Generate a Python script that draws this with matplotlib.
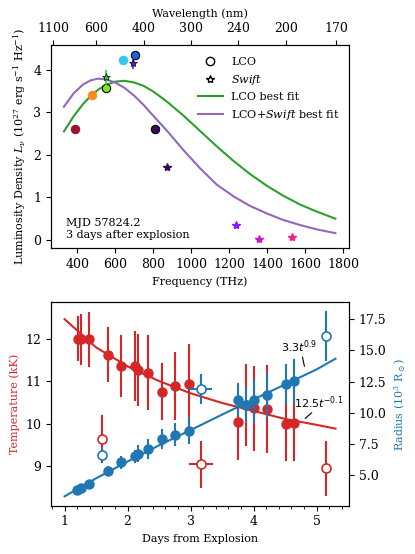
# SN photometry: SED at day 3 (arriba) y evolucion de T / R (abajo)
import numpy as np
import matplotlib
matplotlib.use('Agg')
import matplotlib.pyplot as plt
from matplotlib.lines import Line2D

plt.rcParams['font.family'] = 'DejaVu Serif'
plt.rcParams['mathtext.fontset'] = 'custom'
plt.rcParams['mathtext.rm'] = 'DejaVu Serif'
plt.rcParams['mathtext.it'] = 'DejaVu Serif:italic'
plt.rcParams['mathtext.sf'] = 'DejaVu Sans:italic'
plt.rcParams['mathtext.bf'] = 'DejaVu Sans'
plt.rcParams['mathtext.fallback'] = 'stix'
plt.rcParams['font.size'] = 8
plt.rcParams['xtick.labelsize'] = 9
plt.rcParams['ytick.labelsize'] = 9

# ---- panel superior: SED ----
lco_freq = [388, 477, 553, 640, 705, 810]
lco_lum = [2.60, 3.41, 3.58, 4.24, 4.34, 2.61]
lco_col = ['#9b1233', '#ff8a1c', '#7fe619', '#33c8f2', '#1a66e0', '#3b0a5c']
lco_edge = [False, False, True, False, True, True]

swift_freq = [549, 693, 872, 1237, 1360, 1532]
swift_lum = [3.82, 4.15, 1.71, 0.34, 0.03, 0.08]
swift_err = [0.17, 0.13, 0.0, 0.0, 0.0, 0.0]
swift_col = ['#33cc33', '#5a1ae6', '#2e0a50', '#8c1aff', '#cc14cc', '#ff1a8c']

fit_freq = [330, 380, 430, 470, 510, 555, 600, 650, 700, 750, 800, 870, 960,
            1050, 1135, 1225, 1310, 1400, 1485, 1575, 1660, 1760]
fit_lco = [2.55, 2.90, 3.19, 3.38, 3.53, 3.65, 3.72, 3.74, 3.70, 3.62, 3.49,
           3.26, 2.92, 2.55, 2.20, 1.85, 1.55, 1.27, 1.04, 0.83, 0.67, 0.50]
fit_all = [3.13, 3.44, 3.65, 3.75, 3.79, 3.77, 3.70, 3.57, 3.39, 3.17, 2.92,
           2.58, 2.11, 1.67, 1.30, 1.02, 0.80, 0.62, 0.47, 0.35, 0.25, 0.16]

wl_ticks = [1100, 600, 400, 300, 240, 200, 170]

# ---- panel inferior: temperatura y radio ----
t_temp = [1.22, 1.26, 1.385, 1.685, 1.90, 2.117, 2.16, 2.32, 2.543, 2.754, 2.975,
          3.749, 3.88, 4.0, 4.22, 4.518, 4.645]
temp = [12.02, 12.0, 12.0, 11.64, 11.37, 11.37, 11.27, 11.21, 10.76, 10.89, 10.94,
        10.04, 10.44, 10.36, 10.34, 9.98, 10.02]
temp_err = [0.53, 0.60, 0.66, 0.66, 0.74, 0.84, 0.86, 0.89, 0.68, 0.81, 0.94,
            0.91, 0.97, 1.0, 1.05, 0.86, 0.91]

t_temp_open = [1.59, 3.17, 5.145]
temp_open = [9.63, 9.03, 8.94]
temp_open_err = [0.57, 0.56, 0.65]
temp_open_xerr = [0.0, 0.19, 0.0]

t_rad = [1.20, 1.253, 1.385, 1.685, 1.90, 2.117, 2.16, 2.327, 2.543, 2.754, 2.975,
         3.749, 3.88, 4.0, 4.22, 4.518, 4.645]
rad = [3.85, 3.95, 4.33, 5.31, 6.03, 6.51, 6.73, 7.11, 7.91, 8.25, 8.57,
       11.06, 10.66, 11.0, 11.40, 12.34, 12.52]
rad_err = [0.0, 0.0, 0.0, 0.4, 0.5, 0.55, 0.7, 0.8, 0.78, 0.93, 1.1,
           1.3, 1.45, 1.7, 1.8, 1.6, 1.8]

t_rad_open = [1.59, 3.16, 5.145]
rad_open = [6.65, 11.91, 16.13]
rad_open_err = [0.58, 1.2, 2.0]
rad_open_xerr = [0.0, 0.18, 0.0]

fit_t = [1.0, 1.5, 2.0, 2.5, 3.0, 3.5, 4.0, 4.5, 5.0, 5.3]
fit_temp = [12.48, 11.81, 11.36, 11.01, 10.72, 10.49, 10.30, 10.11, 9.97, 9.88]
fit_rad = [3.31, 4.75, 6.10, 7.40, 8.62, 9.86, 11.08, 12.28, 13.48, 14.34]

RED = '#d62728'
BLUE = '#1f77b4'

fig = plt.figure(figsize=(4.15, 5.54), dpi=100)
ax = fig.add_axes([0.123, 0.5523, 0.718, 0.3664])
ax.plot(fit_freq, fit_lco, color='#2ca02c', lw=1.5, zorder=2)
ax.plot(fit_freq, fit_all, color='#9467bd', lw=1.5, zorder=2)

for f, l, c, e in zip(lco_freq, lco_lum, lco_col, lco_edge):
    ax.plot(f, l, 'o', ms=6, mfc=c, mec='k' if e else c, mew=0.8, zorder=4)
for f, l, er, c in zip(swift_freq, swift_lum, swift_err, swift_col):
    if er > 0:
        ax.errorbar(f, l, yerr=er, fmt='*', ms=6, mfc=c, mec='k', mew=0.5,
                    ecolor=c, elinewidth=1.2, capsize=0, zorder=5)
    else:
        ax.plot(f, l, '*', ms=6, mfc=c, mec=c, zorder=5)

ax.set_xlim(262, 1832)
ax.set_ylim(-0.19, 4.58)
ax.set_xticks([400, 600, 800, 1000, 1200, 1400, 1600, 1800])
ax.set_yticks([0, 1, 2, 3, 4])
ax.set_xlabel('Frequency (THz)')
ax.set_ylabel(r'Luminosity Density $L_\nu$ ($10^{27}$ erg s$^{-1}$ Hz$^{-1}$)')
ax.text(0.05, 0.04, 'MJD 57824.2\n3 days after explosion', transform=ax.transAxes,
        ha='left', va='bottom', fontsize=8)

handles = [Line2D([], [], marker='o', ls='', mfc='none', mec='k', ms=6),
           Line2D([], [], marker='*', ls='', mfc='none', mec='k', ms=6),
           Line2D([], [], color='#2ca02c', lw=1.5),
           Line2D([], [], color='#9467bd', lw=1.5)]
labels = ['LCO', r'$\it{Swift}$', 'LCO best fit', r'LCO+$\it{Swift}$ best fit']
ax.legend(handles, labels, loc='upper right', bbox_to_anchor=(1.0, 0.985),
          frameon=False, fontsize=8, handlelength=2.2, borderaxespad=0.4)

# eje de longitud de onda arriba
axt = ax.twiny()
axt.set_xlim(ax.get_xlim())
axt.set_xticks([299792.458 / w for w in wl_ticks])
axt.set_xticklabels([str(w) for w in wl_ticks])
axt.set_xlabel('Wavelength (nm)')

# ---- panel inferior ----
ax2 = fig.add_axes([0.123, 0.0872, 0.718, 0.3671])
ax3 = ax2.twinx()

ax2.plot(fit_t, fit_temp, color=RED, lw=1.5, zorder=2)
ax2.errorbar(t_temp, temp, yerr=temp_err, fmt='o', color=RED, ms=6.5,
             elinewidth=1.5, capsize=0, zorder=3)
ax2.errorbar(t_temp_open, temp_open, yerr=temp_open_err, xerr=temp_open_xerr,
             fmt='o', color=RED, mfc='white', mew=1.2, ms=6.5, elinewidth=1.5,
             capsize=0, zorder=3)

ax3.plot(fit_t, fit_rad, color=BLUE, lw=1.5, zorder=2)
ax3.errorbar(t_rad, rad, yerr=rad_err, fmt='o', color=BLUE, ms=6.5,
             elinewidth=1.5, capsize=0, zorder=3)
ax3.errorbar(t_rad_open, rad_open, yerr=rad_open_err, xerr=rad_open_xerr,
             fmt='o', color=BLUE, mfc='white', mew=1.2, ms=6.5, elinewidth=1.5,
             capsize=0, zorder=3)

# etiquetas de los ajustes
ax3.text(4.713, 15.33, r'3.3$\mathsf{t}^{\mathbf{0.9}}$', family='DejaVu Sans',
         ha='center', va='center', fontsize=8)
ax3.annotate('', xy=(4.807, 13.73), xytext=(4.776, 14.48),
             arrowprops=dict(arrowstyle='-', color='k', lw=0.8, shrinkA=0, shrinkB=0))
ax2.text(5.03, 10.49, r'12.5$\mathsf{t}^{\mathbf{-0.1}}$', family='DejaVu Sans',
         ha='center', va='center', fontsize=8)
ax2.annotate('', xy=(4.924, 10.26), xytext=(4.818, 10.12),
             arrowprops=dict(arrowstyle='-', color='k', lw=0.8, shrinkA=0, shrinkB=0))

ax2.set_xlim(0.785, 5.515)
ax2.set_ylim(8.05, 12.88)
ax3.set_ylim(2.56, 18.86)
ax2.set_xticks([1, 2, 3, 4, 5])
ax2.set_xticks(np.arange(0.8, 5.6, 0.2), minor=True)
ax2.set_yticks([9, 10, 11, 12])
ax3.set_yticks([5.0, 7.5, 10.0, 12.5, 15.0, 17.5])
ax2.set_xlabel('Days from Explosion')
ax2.set_ylabel('Temperature (kK)', color=RED)
ax3.set_ylabel(r'Radius ($10^3$ R$_\odot$)', color=BLUE)

fig.savefig('out.png', dpi=100)
